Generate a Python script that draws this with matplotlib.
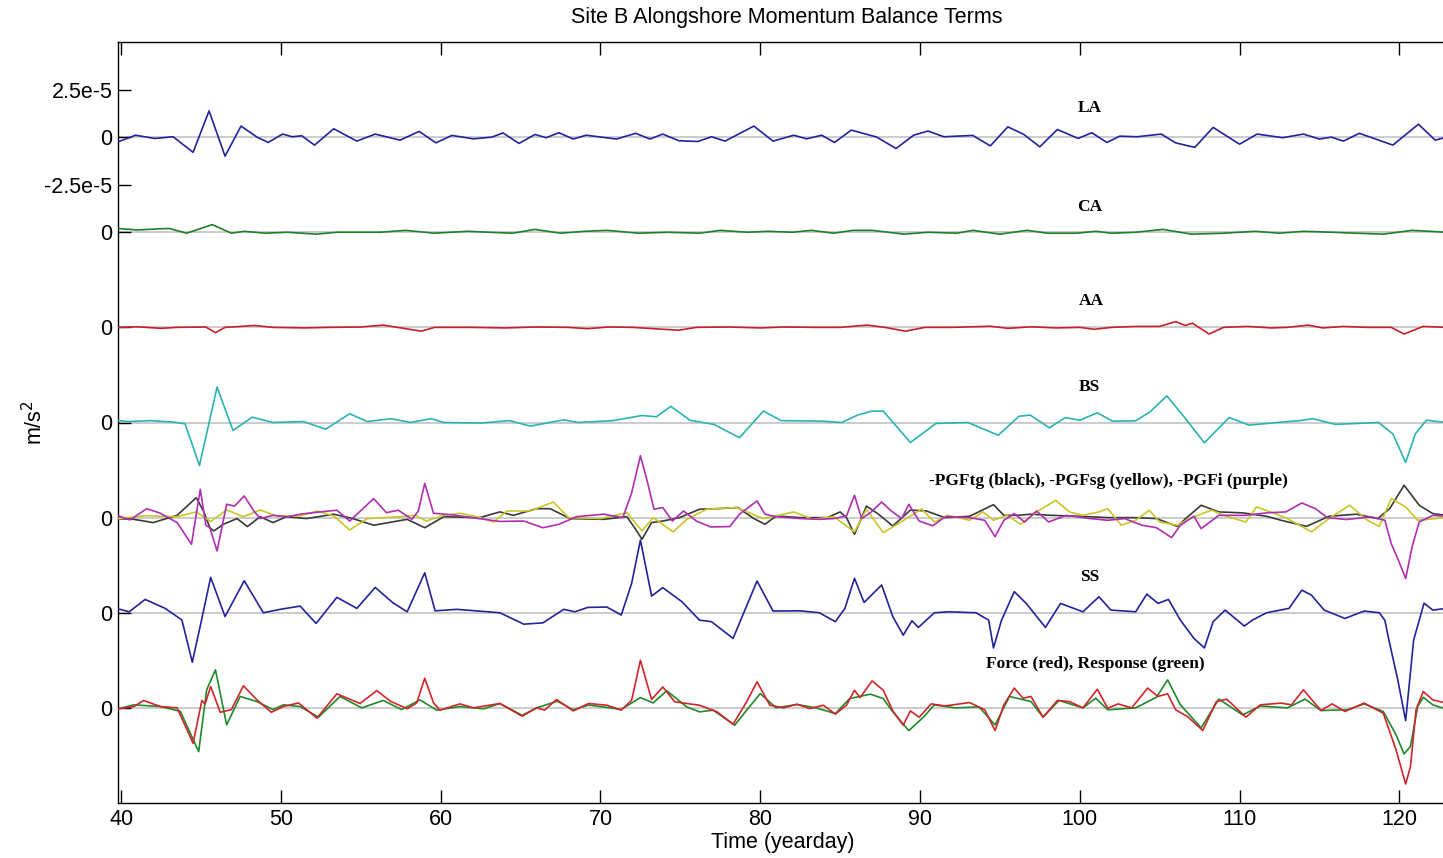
import numpy as np
import matplotlib
matplotlib.use("Agg")
import matplotlib.pyplot as plt

# values, (yearday, value in 1e-5 m/s^2)
la = [(39.8, -0.25), (40.9, 0.1), (42.1, -0.07), (43.25, 0.02), (44.5, -0.8), (45.5, 1.38), (46.5, -1.0),
      (47.5, 0.58), (48.5, 0.0), (49.2, -0.28), (50.1, 0.16), (50.7, 0.02), (51.3, 0.07), (52.1, -0.42),
      (53.3, 0.44), (54.75, -0.21), (55.9, 0.16), (57.45, -0.16), (58.65, 0.3), (59.7, -0.3), (60.7, 0.09),
      (62.05, -0.09), (63.2, 0.0), (63.9, 0.22), (64.9, -0.33), (65.9, 0.14), (66.6, -0.03), (67.4, 0.23),
      (68.3, -0.1), (69.1, 0.1), (71.0, -0.1), (72.2, 0.2), (73.1, -0.1), (73.9, 0.16), (74.9, -0.19),
      (76.1, -0.23), (76.95, 0.02), (77.8, -0.21), (79.6, 0.58), (80.8, -0.21), (82.1, 0.1), (82.9, -0.09),
      (83.85, 0.1), (84.65, -0.28), (85.7, 0.37), (87.3, 0.0), (88.5, -0.6), (89.6, 0.1), (90.5, 0.32),
      (91.5, 0.02), (93.3, 0.09), (94.4, -0.46), (95.5, 0.54), (96.5, 0.14), (97.5, -0.51), (98.6, 0.4),
      (99.9, -0.07), (100.75, 0.23), (101.7, -0.28), (102.5, 0.05), (103.6, 0.02), (105.1, 0.16), (106.0, -0.3),
      (107.2, -0.54), (108.35, 0.51), (110.0, -0.37), (111.1, 0.16), (112.7, -0.03), (114.0, 0.16),
      (115.0, -0.1), (115.75, 0.0), (116.5, -0.21), (117.5, 0.2), (119.6, -0.42), (121.2, 0.68),
      (122.25, -0.16), (122.95, 0.0)]

ca = [(39.8, 0.2), (41.0, 0.12), (42.4, 0.18), (43.0, 0.2), (44.1, -0.05), (45.7, 0.4), (46.9, -0.05),
      (47.7, 0.05), (49.0, -0.05), (50.4, 0.0), (52.2, -0.1), (53.5, 0.0), (56.2, 0.0), (57.8, 0.1),
      (59.6, -0.05), (61.7, 0.05), (63.0, 0.0), (64.5, -0.05), (65.9, 0.15), (67.5, -0.05), (69.0, 0.05),
      (70.4, 0.1), (72.4, -0.05), (74.2, 0.0), (76.2, -0.05), (77.5, 0.1), (79.2, 0.0), (80.5, 0.05),
      (82.0, 0.0), (83.2, 0.1), (84.6, -0.05), (85.8, 0.1), (87.0, 0.1), (89.0, -0.1), (90.5, 0.0),
      (92.3, -0.05), (93.3, 0.1), (95.0, -0.1), (96.7, 0.1), (98.0, -0.05), (99.8, -0.05), (101.0, 0.05),
      (102.0, -0.05), (103.5, 0.0), (105.2, 0.15), (107.0, -0.1), (109.0, -0.05), (111.0, 0.05),
      (112.5, -0.05), (114.0, 0.05), (115.8, 0.0), (117.3, -0.05), (119.0, -0.1), (120.8, 0.1), (122.95, 0.0)]

aa = [(39.8, 0.0), (41.0, 0.03), (42.5, -0.05), (43.5, 0.0), (45.3, 0.02), (45.9, -0.28), (46.5, 0.0),
      (47.5, 0.05), (48.3, 0.1), (49.5, 0.0), (51.5, -0.03), (53.0, 0.0), (55.0, 0.02), (56.4, 0.12),
      (57.3, 0.0), (58.8, -0.2), (59.6, 0.0), (62.0, 0.0), (64.0, -0.03), (66.0, 0.02), (68.0, 0.0),
      (69.2, -0.07), (70.5, 0.02), (72.0, 0.0), (74.9, -0.15), (76.0, 0.0), (78.0, 0.02), (80.0, -0.03),
      (81.5, 0.02), (83.5, 0.0), (85.0, 0.0), (86.7, 0.12), (87.8, 0.0), (89.1, -0.2), (90.3, 0.0),
      (92.0, 0.0), (94.4, 0.06), (95.5, -0.05), (97.0, 0.03), (98.5, -0.03), (100.0, 0.0), (100.9, -0.1),
      (102.0, 0.0), (103.5, 0.05), (105.0, 0.05), (106.0, 0.3), (106.6, 0.1), (107.05, 0.22), (108.1, -0.35),
      (109.0, 0.0), (110.5, 0.05), (112.0, -0.03), (113.0, 0.0), (114.3, 0.12), (115.2, -0.03), (116.5, 0.05),
      (118.0, 0.0), (119.5, 0.0), (120.3, -0.35), (121.5, 0.05), (122.95, 0.0)]

bs = [(39.8, 0.1), (40.5, 0.05), (41.8, 0.1), (43.3, 0.02), (44.0, -0.07), (44.9, -2.26), (46.0, 1.86),
      (47.0, -0.42), (48.2, 0.28), (49.5, 0.0), (51.4, 0.05), (52.8, -0.35), (54.3, 0.46), (55.4, 0.05),
      (56.9, 0.2), (58.1, 0.0), (59.4, 0.2), (60.2, 0.0), (62.5, -0.03), (64.3, 0.1), (65.6, -0.19),
      (67.7, 0.14), (68.6, 0.0), (70.8, 0.1), (72.6, 0.37), (73.5, 0.3), (74.4, 0.85), (75.6, 0.12),
      (77.1, -0.1), (78.7, -0.8), (80.2, 0.6), (81.3, 0.1), (83.9, 0.07), (85.1, 0.0), (86.1, 0.39),
      (87.0, 0.6), (87.7, 0.6), (89.4, -1.05), (91.0, -0.05), (93.0, 0.0), (94.9, -0.67), (96.2, 0.33),
      (96.9, 0.39), (98.1, -0.28), (99.1, 0.26), (100.0, 0.12), (101.1, 0.51), (102.05, 0.07), (103.5, 0.09),
      (104.4, 0.56), (105.45, 1.4), (106.5, 0.33), (107.8, -1.07), (109.35, 0.26), (110.6, -0.14),
      (112.35, 0.0), (113.8, 0.1), (114.6, 0.2), (116.0, -0.1), (118.7, 0.0), (119.6, -0.6), (120.4, -2.1),
      (121.0, -0.6), (121.7, 0.12), (122.95, 0.0)]

pgf_tg = [(39.8, -0.05), (40.8, -0.09), (42.0, -0.26), (43.5, 0.12), (44.7, 1.05), (45.15, 0.35),
          (45.55, -0.53), (45.8, -0.7), (46.4, -0.35), (47.25, -0.05), (47.9, -0.47), (48.7, 0.05),
          (49.5, -0.26), (50.35, 0.05), (51.6, -0.05), (53.3, 0.18), (54.5, -0.05), (55.8, -0.4),
          (57.9, -0.09), (59.0, -0.53), (60.2, 0.05), (62.45, 0.0), (63.7, 0.3), (64.55, 0.12), (66.0, 0.47),
          (66.85, 0.47), (68.1, -0.05), (70.2, -0.09), (71.65, 0.05), (72.2, -0.61), (72.6, -1.14),
          (73.2, -0.26), (73.9, -0.18), (74.95, 0.0), (76.2, 0.44), (77.3, 0.47), (78.6, 0.53), (79.6, -0.05),
          (80.3, -0.35), (81.0, 0.09), (82.5, 0.0), (84.2, 0.0), (85.0, 0.3), (85.4, 0.0), (85.9, -0.88),
          (86.65, 0.61), (87.4, 0.18), (88.3, -0.44), (89.4, 0.4), (90.4, 0.35), (91.55, 0.0), (93.1, 0.07),
          (94.6, 0.68), (95.25, 0.12), (96.1, 0.12), (96.95, 0.18), (98.25, 0.12), (100.0, 0.07),
          (101.75, 0.0), (103.5, 0.0), (104.8, -0.05), (106.1, -0.46), (106.7, 0.0), (107.6, 0.65),
          (108.7, 0.3), (110.2, 0.25), (111.7, 0.07), (112.6, -0.14), (114.2, -0.46), (115.6, 0.07),
          (117.3, 0.18), (118.65, -0.05), (119.4, 0.47), (120.3, 1.7), (121.25, 0.65), (122.1, 0.21),
          (122.95, 0.12)]

pgf_sg = [(39.8, -0.05), (41.5, 0.1), (43.5, 0.05), (44.7, 0.3), (45.6, -0.2), (46.6, 0.4), (47.65, 0.05),
          (48.7, 0.4), (49.75, 0.09), (51.2, 0.09), (52.25, 0.35), (53.3, 0.09), (54.3, -0.65), (55.4, -0.05),
          (57.45, 0.05), (58.4, 0.12), (59.1, -0.18), (60.2, 0.12), (61.2, 0.23), (62.25, 0.05), (63.3, -0.23),
          (64.15, 0.35), (65.6, 0.35), (67.05, 0.82), (68.0, 0.0), (70.0, -0.05), (71.65, 0.26), (72.6, -0.7),
          (73.3, 0.0), (74.55, -0.75), (75.4, -0.09), (76.65, 0.44), (78.5, 0.53), (80.2, -0.05), (82.1, 0.3),
          (83.3, -0.09), (84.6, 0.05), (85.9, -0.75), (86.65, 0.44), (87.7, -0.79), (88.75, -0.26), (90.1, 0.45),
          (90.9, -0.23), (91.75, 0.12), (93.1, -0.14), (93.95, 0.3), (94.6, -0.14), (95.45, 0.12), (96.3, -0.35),
          (97.4, 0.35), (98.5, 0.91), (99.35, 0.3), (100.2, 0.12), (101.2, 0.3), (101.75, 0.47), (102.6, -0.4),
          (103.5, -0.14), (104.35, 0.39), (105.0, -0.23), (106.1, -0.4), (107.0, 0.0), (108.25, 0.39),
          (109.3, 0.04), (110.4, -0.23), (111.05, 0.56), (112.1, 0.25), (113.0, -0.05), (114.5, -0.75),
          (115.8, 0.07), (116.9, 0.65), (118.0, -0.14), (118.75, -0.46), (119.5, 1.0), (120.4, 0.56),
          (121.15, -0.14), (122.95, 0.0)]

pgf_i = [(39.8, 0.1), (40.55, -0.12), (41.6, 0.47), (42.45, 0.23), (43.5, -0.26), (44.4, -1.4), (44.95, 1.49),
         (45.3, -0.4), (45.55, -0.53), (46.0, -1.75), (46.6, 0.7), (47.1, 0.61), (47.7, 1.14), (48.3, 0.35),
         (48.7, -0.05), (49.5, 0.12), (50.4, 0.04), (51.2, 0.18), (52.45, 0.3), (53.5, 0.39), (54.3, -0.18),
         (55.8, 1.0), (56.6, 0.26), (57.35, 0.39), (58.2, -0.09), (58.6, 0.35), (59.0, 1.8), (59.55, 0.23),
         (60.8, 0.14), (61.6, 0.04), (63.7, -0.2), (65.2, -0.18), (66.4, -0.53), (67.4, -0.35), (68.5, 0.05),
         (70.2, 0.18), (71.4, 0.0), (71.95, 1.3), (72.5, 3.25), (72.9, 2.0), (73.35, 0.44), (73.9, 0.53),
         (74.5, -0.18), (75.2, 0.35), (76.0, -0.18), (76.9, -0.49), (78.1, -0.47), (78.7, 0.18), (79.8, 0.88),
         (80.3, 0.18), (81.0, 0.05), (82.5, -0.05), (83.7, -0.09), (84.6, -0.05), (85.4, 0.09), (85.9, 1.17),
         (86.35, -0.05), (86.9, 0.26), (87.6, 0.82), (88.2, 0.35), (88.85, -0.05), (89.3, 0.7), (89.95, -0.18),
         (90.8, -0.43), (91.6, 0.06), (93.1, 0.0), (94.05, -0.14), (94.7, -1.0), (95.25, -0.14), (95.9, 0.21),
         (96.55, -0.23), (97.3, 0.35), (98.05, -0.23), (99.15, 0.12), (100.65, -0.05), (101.75, -0.14),
         (102.8, -0.05), (103.9, -0.4), (104.8, -0.53), (105.75, -1.05), (106.3, -0.4), (107.15, 0.07),
         (107.6, -0.58), (108.7, 0.12), (110.4, 0.12), (111.7, 0.25), (112.9, 0.3), (113.9, 0.77),
         (114.75, 0.47), (115.5, 0.0), (116.7, -0.1), (118.2, 0.04), (119.1, -0.14), (119.5, -1.37),
         (119.95, -2.25), (120.4, -3.2), (120.8, -1.54), (121.25, -0.23), (122.1, 0.12), (122.95, 0.07)]

ss = [(39.7, 0.23), (40.5, 0.05), (41.5, 0.7), (42.75, 0.23), (43.8, -0.38), (44.45, -2.6), (45.0, -0.5),
      (45.6, 1.86), (46.5, -0.2), (47.7, 1.68), (48.9, 0.0), (49.95, 0.18), (51.2, 0.35), (52.2, -0.56),
      (53.5, 0.81), (54.75, 0.23), (55.9, 1.33), (57.0, 0.53), (57.9, 0.05), (59.0, 2.1), (59.65, 0.1),
      (61.0, 0.18), (63.7, 0.0), (65.2, -0.6), (66.4, -0.53), (67.7, 0.18), (68.4, 0.05), (69.2, 0.28),
      (70.4, 0.3), (71.3, -0.12), (71.95, 1.54), (72.5, 3.82), (73.2, 0.88), (73.9, 1.32), (75.1, 0.58),
      (76.2, -0.39), (76.95, -0.47), (78.3, -1.35), (79.8, 1.67), (80.8, 0.09), (82.5, 0.1), (83.7, 0.0),
      (84.7, -0.47), (85.3, 0.23), (85.9, 1.81), (86.5, 0.54), (87.6, 1.46), (88.3, -0.21), (88.95, -1.18),
      (89.5, -0.42), (89.9, -0.77), (90.9, 0.0), (91.8, 0.05), (93.5, 0.0), (94.3, -0.39), (94.6, -1.85),
      (95.1, -0.4), (95.9, 1.11), (96.65, 0.49), (97.85, -0.77), (98.8, 0.49), (100.2, 0.05), (101.2, 0.84),
      (101.95, 0.14), (103.5, 0.05), (104.2, 0.98), (104.9, 0.49), (105.55, 0.7), (106.3, -0.39),
      (107.15, -1.35), (107.8, -1.85), (108.35, -0.47), (109.1, 0.14), (110.3, -0.7), (110.8, -0.39),
      (111.7, 0.0), (113.1, 0.23), (113.9, 1.19), (114.5, 0.93), (115.3, 0.14), (116.6, -0.3), (117.8, 0.09),
      (118.75, 0.0), (119.1, -0.4), (119.35, -1.43), (119.9, -3.5), (120.4, -5.67), (120.9, -1.43),
      (121.55, 0.5), (122.1, 0.14), (122.95, 0.23)]

force = [(39.8, -0.05), (40.8, 0.07), (41.4, 0.39), (42.45, 0.07), (43.5, 0.0), (44.5, -1.86), (45.05, 0.39),
         (45.25, 0.2), (45.6, 1.12), (46.2, -0.23), (46.9, -0.09), (47.65, 1.16), (48.5, 0.42), (49.4, -0.23),
         (50.15, 0.07), (51.1, 0.26), (52.25, -0.54), (53.5, 0.74), (54.95, 0.23), (56.0, 0.91), (56.85, 0.35),
         (57.9, -0.05), (58.5, 0.26), (59.0, 1.56), (59.55, 0.26), (59.95, -0.12), (61.2, 0.21), (62.05, 0.0),
         (63.7, 0.23), (65.1, -0.44), (66.0, 0.0), (66.5, -0.12), (67.25, 0.44), (68.3, -0.16), (69.25, 0.23),
         (70.4, 0.14), (71.3, -0.12), (71.95, 0.4), (72.5, 2.5), (73.2, 0.44), (73.9, 1.1), (74.65, 0.32),
         (75.4, 0.23), (76.2, 0.14), (77.3, -0.21), (78.3, -0.86), (79.15, 0.32), (79.8, 1.37), (80.6, 0.14),
         (81.45, 0.0), (82.3, 0.19), (83.1, -0.04), (83.95, 0.14), (84.7, -0.33), (85.4, 0.14), (85.9, 0.93),
         (86.25, 0.54), (87.0, 1.42), (87.7, 0.93), (88.3, -0.16), (88.95, -0.91), (89.4, -0.16), (89.95, -0.49),
         (90.7, 0.21), (91.55, 0.1), (93.1, 0.28), (94.05, -0.1), (94.7, -1.19), (95.25, 0.16), (95.9, 1.04),
         (96.45, 0.51), (96.95, 0.6), (97.7, -0.49), (98.6, 0.39), (99.35, 0.33), (100.2, 0.0), (101.1, 0.98),
         (101.75, -0.02), (102.4, 0.21), (103.25, 0.0), (104.25, 1.04), (104.9, 0.6), (105.5, 0.74),
         (106.0, -0.1), (106.75, -0.46), (107.7, -1.19), (108.55, 0.33), (109.2, 0.46), (110.4, -0.49),
         (111.3, 0.16), (112.6, 0.25), (113.25, 0.16), (114.0, 0.95), (115.1, -0.14), (115.8, 0.21),
         (116.6, -0.19), (117.8, 0.25), (119.0, -0.28), (119.8, -2.21), (120.4, -4.0), (120.7, -3.09),
         (121.05, -0.1), (121.5, 0.86), (122.1, 0.42), (122.95, 0.25)]

response = [(39.8, -0.05), (40.8, 0.16), (42.45, 0.07), (43.7, -0.18), (44.85, -2.3), (45.35, 0.95),
            (45.9, 2.0), (46.6, -0.89), (47.45, 0.6), (48.5, 0.33), (49.5, -0.09), (50.15, 0.16), (51.2, 0.07),
            (52.35, -0.49), (53.7, 0.6), (55.05, 0.0), (56.4, 0.39), (57.55, -0.09), (58.7, 0.42),
            (59.75, -0.12), (61.2, 0.07), (62.7, -0.05), (63.7, 0.23), (65.1, -0.39), (66.0, 0.0), (67.3, 0.35),
            (68.3, -0.1), (69.25, 0.15), (71.3, -0.08), (72.5, 0.54), (73.3, 0.26), (74.15, 0.9), (75.4, 0.05),
            (76.2, -0.21), (77.05, -0.12), (78.4, -0.91), (79.15, -0.12), (80.0, 0.75), (81.0, 0.0),
            (82.3, 0.18), (83.5, 0.0), (84.7, -0.3), (85.6, 0.49), (86.9, 0.72), (87.7, 0.49), (88.3, -0.21),
            (89.3, -1.2), (90.25, -0.46), (90.9, 0.16), (92.2, 0.0), (93.7, 0.05), (94.7, -0.9), (95.6, 0.6),
            (96.95, 0.33), (97.7, -0.49), (98.7, 0.39), (100.2, 0.0), (101.0, 0.51), (101.75, -0.1),
            (103.5, 0.0), (104.8, 0.56), (105.5, 1.47), (106.3, 0.16), (107.6, -1.05), (108.7, 0.46),
            (110.2, -0.37), (111.3, 0.1), (113.0, 0.0), (114.1, 0.46), (115.1, -0.14), (116.75, -0.1),
            (117.8, 0.21), (119.0, -0.19), (119.8, -1.42), (120.3, -2.42), (120.7, -2.03), (121.15, 0.07),
            (121.5, 0.56), (122.1, 0.16), (122.95, -0.07)]

offsets = [0, -5e-5, -10e-5, -15e-5, -20e-5, -25e-5, -30e-5]
ytick_pos = [2.5e-5, 0, -2.5e-5, -5e-5, -10e-5, -15e-5, -20e-5, -25e-5, -30e-5]
ytick_labels = ["2.5e-5", "0", "-2.5e-5", "0", "0", "0", "0", "0", "0"]
xtick_pos = [40, 50, 60, 70, 80, 90, 100, 110, 120]

plt.rcParams["font.family"] = "Liberation Sans"

fig = plt.figure(figsize=(14.43, 8.58), dpi=100)
# right edge of the box sits just past the picture, as in the original
ax = fig.add_axes([118 / 1443, 55 / 858, 1330 / 1443, 761 / 858])


def draw(series, offset, color, lw=1.2):
    t, v = zip(*series)
    ax.plot(t, np.array(v) * 1e-5 + offset, color=color, lw=lw, zorder=3,
            solid_joinstyle="round")


for off in offsets:
    ax.axhline(off, color="#cccccc", lw=1.4, zorder=1)

draw(la, offsets[0], "#23239c")
draw(ca, offsets[1], "#1f7f2a")
draw(aa, offsets[2], "#c8202a")
draw(bs, offsets[3], "#2bb3b3")
draw(pgf_tg, offsets[4], "#3a3a3a")
draw(pgf_sg, offsets[4], "#c9c726")
draw(pgf_i, offsets[4], "#b02fb0")
draw(ss, offsets[5], "#23239c")
draw(response, offsets[6], "#1f8a2a")
draw(force, offsets[6], "#d0252a")

labels = [
    ("LA", 100.6, offsets[0] + 1.53e-5),
    ("CA", 100.6, offsets[1] + 1.32e-5),
    ("AA", 100.7, offsets[2] + 1.37e-5),
    ("BS", 100.6, offsets[3] + 1.84e-5),
    ("-PGFtg (black), -PGFsg (yellow), -PGFi (purple)", 101.8, offsets[4] + 1.95e-5),
    ("SS", 100.6, offsets[5] + 1.9e-5),
    ("Force (red), Response (green)", 100.95, offsets[6] + 2.3e-5),
]
for txt, x, y in labels:
    ax.text(x, y, txt, ha="center", va="center", fontsize=12.5, fontweight="bold",
            family="Liberation Serif", zorder=5)

ax.set_xlim(39.8, 123.05)
ax.set_ylim(-35e-5, 5e-5)
ax.set_xticks(xtick_pos)
ax.set_yticks(ytick_pos)
ax.set_yticklabels(ytick_labels)
ax.tick_params(direction="in", length=9.5, width=1, top=True, right=False,
               labelsize=15.5, pad=4)
for s in ax.spines.values():
    s.set_linewidth(1.0)

ax.set_xlabel("Time (yearday)", fontsize=15.5, labelpad=2)
ax.set_ylabel("m/s$^2$", fontsize=15.5)
ax.yaxis.set_label_coords(-0.053, 0.5)
fig.text(787 / 1443, 1 - 18 / 858, "Site B Alongshore Momentum Balance Terms",
         ha="center", va="center", fontsize=15.5)

fig.savefig("out.png", dpi=100)
